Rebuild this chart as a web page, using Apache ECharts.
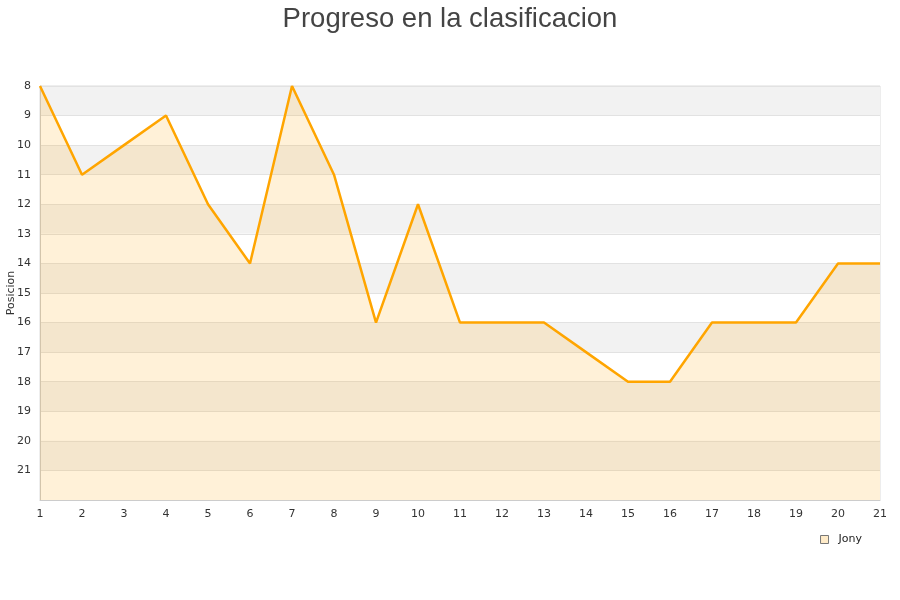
<!DOCTYPE html>
<html><head><meta charset="utf-8">
<script src="https://cdn.jsdelivr.net/npm/echarts@6/dist/echarts.min.js"></script>
<style>html,body{margin:0;padding:0;background:#fff}#c{width:900px;height:600px}</style>
</head><body><div id="c"></div>
<script>
var jornadas = [1,2,3,4,5,6,7,8,9,10,11,12,13,14,15,16,17,18,19,20,21];
var posicionJony = [8,11,10,9,12,14,8,11,16,12,16,16,16,17,18,18,16,16,16,14,14];
var titleText = 'Progreso en la clasificacion';
var yName = 'Posicion';
var seriesName = 'Jony';

var data = jornadas.map(function(j,i){return [j, posicionJony[i]];});
var chart = echarts.init(document.getElementById('c'));
chart.setOption({
  animation:false,
  title:{text:titleText,left:'center',top:0,textStyle:{fontFamily:'Liberation Sans, Arial, sans-serif',fontSize:27.5,fontWeight:'normal',color:'#444'}},
  grid:{left:40,right:20,top:86,bottom:100,show:true,borderColor:'#dcdcdc',borderWidth:1,backgroundColor:'transparent',containLabel:false,outerBoundsMode:'none'},
  legend:{right:33,top:529,itemWidth:8,itemHeight:8,itemGap:8,icon:'rect',textStyle:{fontFamily:'DejaVu Sans, sans-serif',fontSize:11,color:'#222',padding:[0,0,0,5]},data:[{name:seriesName,itemStyle:{color:'#ffebc8',borderColor:'#777',borderWidth:1}}]},
  xAxis:{type:'value',min:1,max:21,interval:1,
    axisLine:{show:true,lineStyle:{color:'#ccc'}},axisTick:{show:false},splitLine:{show:false},
    axisLabel:{color:'#333',fontSize:11,fontFamily:'DejaVu Sans, sans-serif',margin:9}},
  yAxis:{type:'value',inverse:true,min:8,max:22,interval:1,name:yName,nameLocation:'middle',nameGap:23,nameMoveOverlap:false,
    nameTextStyle:{color:'#333',fontSize:11,fontFamily:'DejaVu Sans, sans-serif'},
    axisLine:{show:true,lineStyle:{color:'#ccc'}},axisTick:{show:false},
    axisLabel:{color:'#333',fontSize:11,fontFamily:'DejaVu Sans, sans-serif',margin:9,formatter:function(v){return v===22?'':v;}},
    splitLine:{show:true,lineStyle:{color:'#e2e2e2'}},
    splitArea:{show:true,areaStyle:{color:['#f2f2f2','#ffffff']}}},
  series:[{name:seriesName,type:'line',data:data,symbol:'none',
    lineStyle:{color:'#ffa500',width:2.5},itemStyle:{color:'#ffa500'},
    areaStyle:{origin:'end',color:'rgba(255,165,0,0.22)'}}]
});
</script></body></html>
